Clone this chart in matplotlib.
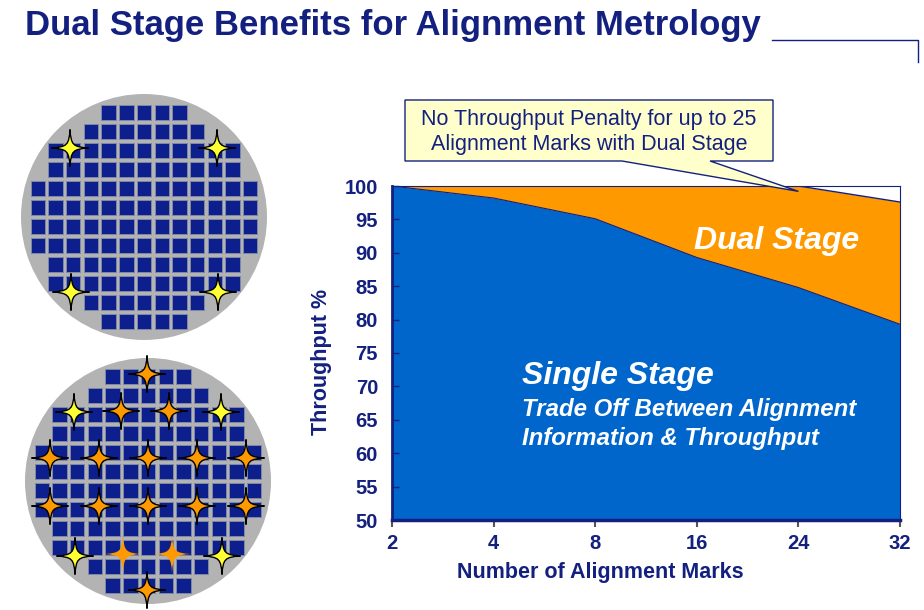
import matplotlib
matplotlib.use("Agg")
import matplotlib.pyplot as plt
from matplotlib.path import Path
from matplotlib.patches import PathPatch, Polygon, Circle, Rectangle

plt.rcParams["font.family"] = ["Liberation Sans", "DejaVu Sans"]

# chart data
marks = ["2", "4", "8", "16", "24", "32"]
single_stage = [100, 98.2, 95.1, 89.3, 84.8, 79.3]
dual_stage = [100, 100, 100, 100, 100, 97.6]

# wafer layout: die columns per row, and alignment mark offsets (px from wafer centre)
die_rows = [(4, 8), (3, 9), (1, 11), (1, 11), (0, 12), (0, 12),
            (0, 12), (0, 12), (1, 11), (1, 11), (3, 9), (4, 8)]
corner_marks = [(-74, -69), (73, -69), (-73, 75), (74, 75)]
extra_marks = [(-1, -107), (-27, -70), (21, -70),
               (-98, -23), (-49, -23), (0, -23), (49, -23), (98, -23),
               (-98, 25), (-49, 25), (0, 25), (49, 25), (98, 25),
               (-1, 109)]
extra_marks_plain = [(-25, 73), (24, 73)]

navy = "#13207f"
blue = "#0066cc"
orange = "#ff9900"

fig = plt.figure(figsize=(9.24, 6.10), dpi=100)

# ---- main chart ----
ax = fig.add_axes([392 / 924, 90 / 610, 508 / 924, 334 / 610])
x = range(len(marks))
ax.fill_between(x, 50, dual_stage, color=orange, lw=0)
ax.fill_between(x, 50, single_stage, color=blue, lw=0)
ax.plot(x, dual_stage, color=navy, lw=1)
ax.plot(x, single_stage, color=navy, lw=0.8)
ax.set_xlim(0, len(marks) - 1)
ax.set_ylim(50, 100)
ax.set_xticks(list(x))
ax.set_xticklabels(marks)
ax.set_yticks(range(50, 101, 5))
for s in ax.spines.values():
    s.set_color(navy)
    s.set_linewidth(0.8)
ax.spines["left"].set_linewidth(2)
ax.spines["bottom"].set_linewidth(2.5)
ax.tick_params(axis="x", direction="out", length=5, width=1.5, color="#555555",
               labelsize=14.5, labelcolor=navy, pad=5)
ax.tick_params(axis="y", direction="in", length=5, width=1, color=navy,
               labelsize=14.5, labelcolor=navy, pad=10)
for lab in ax.get_xticklabels() + ax.get_yticklabels():
    lab.set_fontweight("bold")
ax.set_xlabel("Number of Alignment Marks", fontsize=15.5, fontweight="bold",
              color=navy)
ax.set_ylabel("Throughput %", fontsize=15.5, fontweight="bold", color=navy)
ax.xaxis.set_label_coords((600 - 392) / 508, -(562 - 520) / 334)
ax.yaxis.set_label_coords(-(392 - 332) / 508, (520 - 362) / 334)

ax.text(2.97, 91.8, "Dual Stage", color="white", fontsize=23,
        fontweight="bold", style="italic", va="center")
ax.text(1.28, 71.5, "Single Stage", color="white", fontsize=23,
        fontweight="bold", style="italic", va="center")
ax.text(1.28, 66.6, "Trade Off Between Alignment", color="white", fontsize=17.3,
        fontweight="bold", style="italic", va="center")
ax.text(1.28, 62.2, "Information & Throughput", color="white", fontsize=17.3,
        fontweight="bold", style="italic", va="center")

# ---- overlay in pixel coordinates for slide decorations ----
ov = fig.add_axes([0, 0, 1, 1])
ov.set_xlim(0, 924)
ov.set_ylim(610, 0)
ov.axis("off")
ov.patch.set_alpha(0)

ov.text(25, 26, "Dual Stage Benefits for Alignment Metrology", fontsize=25,
        fontweight="bold", color=navy, va="center")
ov.plot([772, 918, 918], [40, 40, 62], color=navy, lw=1)

# callout with pointer to the 24-mark point
fig.canvas.draw()
tx, ty = ax.transData.transform((4, 99.2))
tip = (tx, 610 - ty)
callout = Polygon([(405, 100), (773, 100), (773, 161), (710, 161), tip,
                   (622, 161), (405, 161)], closed=True,
                  facecolor="#ffffcc", edgecolor=navy, lw=1)
ov.add_patch(callout)
ov.text(589, 132, "No Throughput Penalty for up to 25\nAlignment Marks with Dual Stage",
        ha="center", va="center", fontsize=15.5, color=navy, linespacing=1.2)


def star(cx, cy, r=18.5, a=3.0, b=1.0):
    pts = [(r, 0), (a, b), (b, a), (0, r), (-b, a), (-a, b), (-r, 0),
           (-a, -b), (-b, -a), (0, -r), (b, -a), (a, -b), (r, 0), (r, 0)]
    codes = [Path.MOVETO] + [Path.CURVE4] * 12 + [Path.CLOSEPOLY]
    return Path([(cx + px, cy + py) for px, py in pts], codes)


def wafer(cx, cy, marks_list, plain_list=()):
    ov.add_patch(Circle((cx, cy), 123, facecolor="#b3b3b3", edgecolor="none"))
    px, py = 17.7, 19.0
    w, h = 14.4, 15.6
    for r, (c0, c1) in enumerate(die_rows):
        for c in range(c0, c1 + 1):
            x0 = cx + (c - 6) * px - w / 2
            y0 = cy + (r - 5.5) * py - h / 2
            ov.add_patch(Rectangle((x0, y0), w, h, facecolor="#0d1f8c",
                                   edgecolor="#7d88a8", lw=0.7))
    for dx, dy in corner_marks:
        ov.add_patch(PathPatch(star(cx + dx, cy + dy), facecolor="#ffff33",
                               edgecolor="black", lw=1))
    for dx, dy in marks_list:
        ov.add_patch(PathPatch(star(cx + dx, cy + dy), facecolor=orange,
                               edgecolor="black", lw=1))
    for dx, dy in plain_list:
        ov.add_patch(PathPatch(star(cx + dx, cy + dy), facecolor=orange,
                               edgecolor="none"))


wafer(144, 217, [])
wafer(148, 481, extra_marks, extra_marks_plain)

fig.savefig("out.png", dpi=100)
